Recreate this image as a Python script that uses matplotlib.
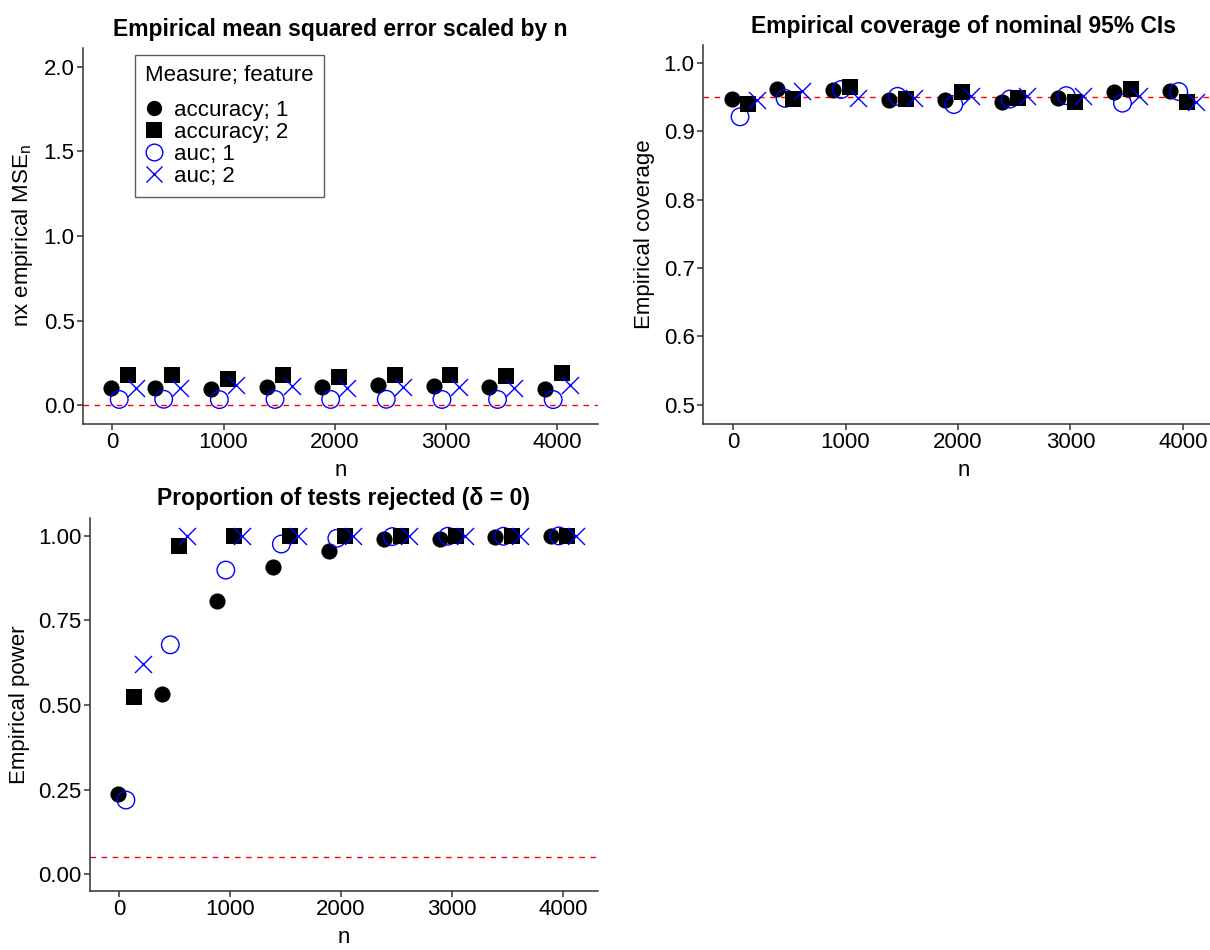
import numpy as np
import matplotlib
matplotlib.use("Agg")
import matplotlib.pyplot as plt
from matplotlib.lines import Line2D

plt.rcParams["font.family"] = ["Liberation Sans", "DejaVu Sans"]

N_VALUES = [100, 500, 1000, 1500, 2000, 2500, 3000, 3500, 4000]
GROUPS = ["accuracy; 1", "auc; 1", "accuracy; 2", "auc; 2"]
LEGEND_ORDER = ["accuracy; 1", "accuracy; 2", "auc; 1", "auc; 2"]

# n x empirical MSE
MSE = {
    "accuracy; 1": [0.102, 0.102, 0.096, 0.108, 0.108, 0.118, 0.112, 0.108, 0.099],
    "accuracy; 2": [0.178, 0.178, 0.158, 0.178, 0.167, 0.181, 0.181, 0.173, 0.193],
    "auc; 1":      [0.035, 0.036, 0.034, 0.035, 0.035, 0.036, 0.035, 0.035, 0.034],
    "auc; 2":      [0.105, 0.105, 0.118, 0.112, 0.105, 0.108, 0.108, 0.105, 0.122],
}

COVERAGE = {
    "accuracy; 1": [0.947, 0.961, 0.960, 0.945, 0.946, 0.943, 0.948, 0.957, 0.959],
    "accuracy; 2": [0.940, 0.947, 0.965, 0.947, 0.958, 0.949, 0.943, 0.961, 0.942],
    "auc; 1":      [0.921, 0.948, 0.961, 0.951, 0.939, 0.947, 0.952, 0.941, 0.958],
    "auc; 2":      [0.946, 0.959, 0.948, 0.948, 0.951, 0.951, 0.952, 0.952, 0.943],
}

POWER = {
    "accuracy; 1": [0.236, 0.533, 0.809, 0.909, 0.956, 0.990, 0.991, 0.997, 1.000],
    "accuracy; 2": [0.524, 0.970, 1.000, 1.000, 1.000, 1.000, 1.000, 1.000, 1.000],
    "auc; 1":      [0.219, 0.678, 0.899, 0.976, 0.993, 0.998, 0.999, 0.999, 1.000],
    "auc; 2":      [0.622, 1.000, 1.000, 1.000, 1.000, 1.000, 1.000, 1.000, 1.000],
}

DODGE = {"accuracy; 1": -112.5, "auc; 1": -37.5, "accuracy; 2": 37.5, "auc; 2": 112.5}

STYLE = {
    "accuracy; 1": dict(marker="o", color="black", facecolor="black"),
    "accuracy; 2": dict(marker="s", color="black", facecolor="black"),
    "auc; 1": dict(marker="o", color="blue", facecolor="none"),
    "auc; 2": dict(marker="x", color="blue", facecolor="blue"),
}

W, H = 1210, 950
TICK_FS = 16
LABEL_FS = 16
TITLE_FS = 16.5


def px_axes(fig, left, top, right, bottom):
    return fig.add_axes([left / W, 1 - bottom / H, (right - left) / W, (bottom - top) / H])


def draw_points(ax, data):
    n = np.array(N_VALUES, dtype=float)
    for g in GROUPS:
        st = STYLE[g]
        x = n + DODGE[g]
        if st["marker"] == "x":
            ax.scatter(x, data[g], marker="x", color=st["color"], s=150, linewidths=1.0, zorder=3)
        elif st["facecolor"] == "none":
            ax.scatter(x, data[g], marker="o", facecolors="none", edgecolors=st["color"],
                       s=160, linewidths=1.0, zorder=3)
        else:
            ax.scatter(x, data[g], marker=st["marker"], color=st["color"], s=135,
                       linewidths=0, zorder=3)


def style_axes(ax):
    for side in ("top", "right"):
        ax.spines[side].set_visible(False)
    for side in ("left", "bottom"):
        ax.spines[side].set_color("#333333")
        ax.spines[side].set_linewidth(1.1)
    ax.tick_params(direction="out", length=4, width=1.1, color="#333333",
                   labelsize=TICK_FS, labelcolor="black", pad=2)
    ax.set_xticks([0, 1000, 2000, 3000, 4000])
    ax.set_xlabel("n", fontsize=LABEL_FS, labelpad=5)


fig = plt.figure(figsize=(W / 100, H / 100), dpi=100)

# panel 1: MSE
ax1 = px_axes(fig, 83, 48, 598, 424)
ax1.axhline(0, color="red", linestyle=(0, (4, 4)), linewidth=1.0, zorder=1)
draw_points(ax1, MSE)
ax1.set_xlim(-263, 4365)
ax1.set_ylim(-0.11, 2.11)
ax1.set_yticks([0.0, 0.5, 1.0, 1.5, 2.0])
ax1.set_yticklabels(["0.0", "0.5", "1.0", "1.5", "2.0"])
style_axes(ax1)
ax1.set_ylabel("nx empirical MSE$_\\mathregular{n}$", fontsize=LABEL_FS, labelpad=6)
ax1.set_title("Empirical mean squared error scaled by n", fontsize=TITLE_FS,
              fontweight="bold", pad=9)

handles = []
for g in LEGEND_ORDER:
    st = STYLE[g]
    if st["marker"] == "x":
        h = Line2D([], [], linestyle="none", marker="x", color="blue", markersize=12, markeredgewidth=1.0)
    elif st["facecolor"] == "none":
        h = Line2D([], [], linestyle="none", marker="o", markerfacecolor="none",
                   markeredgecolor="blue", markersize=12, markeredgewidth=1.0)
    else:
        h = Line2D([], [], linestyle="none", marker=st["marker"], color="black",
                   markersize=11, markeredgewidth=0)
    handles.append(h)
leg = ax1.legend(handles, LEGEND_ORDER, title="Measure; feature", loc="upper left",
                 bbox_to_anchor=(52 / 515, 1 - 7 / 376), fontsize=LABEL_FS,
                 title_fontsize=LABEL_FS, frameon=True, fancybox=False,
                 handlelength=0.8, handletextpad=0.5, labelspacing=0.05,
                 borderpad=0.45, borderaxespad=0)
leg.get_frame().set_edgecolor("#333333")
leg.get_frame().set_linewidth(1.0)
leg._legend_box.align = "left"
leg._legend_box.sep = 10

# panel 2: coverage
ax2 = px_axes(fig, 703, 45, 1224, 424)
ax2.axhline(0.95, color="red", linestyle=(0, (4, 4)), linewidth=1.0, zorder=1)
draw_points(ax2, COVERAGE)
ax2.set_xlim(-267, 4365)
ax2.set_ylim(0.472, 1.026)
ax2.set_yticks([0.5, 0.6, 0.7, 0.8, 0.9, 1.0])
ax2.set_yticklabels(["0.5", "0.6", "0.7", "0.8", "0.9", "1.0"])
style_axes(ax2)
ax2.set_ylabel("Empirical coverage", fontsize=LABEL_FS, labelpad=6)
ax2.set_title("Empirical coverage of nominal 95% CIs", fontsize=TITLE_FS,
              fontweight="bold", pad=9)

# panel 3: power
ax3 = px_axes(fig, 90, 518, 598, 891)
ax3.axhline(0.05, color="red", linestyle=(0, (4, 4)), linewidth=1.0, zorder=1)
draw_points(ax3, POWER)
ax3.set_xlim(-261, 4315)
ax3.set_ylim(-0.05, 1.053)
ax3.set_yticks([0.0, 0.25, 0.5, 0.75, 1.0])
ax3.set_yticklabels(["0.00", "0.25", "0.50", "0.75", "1.00"])
style_axes(ax3)
ax3.set_ylabel("Empirical power", fontsize=LABEL_FS, labelpad=6)
ax3.set_title("Proportion of tests rejected (δ = 0)", fontsize=TITLE_FS,
              fontweight="bold", pad=9)

fig.savefig("out.png", dpi=100)
